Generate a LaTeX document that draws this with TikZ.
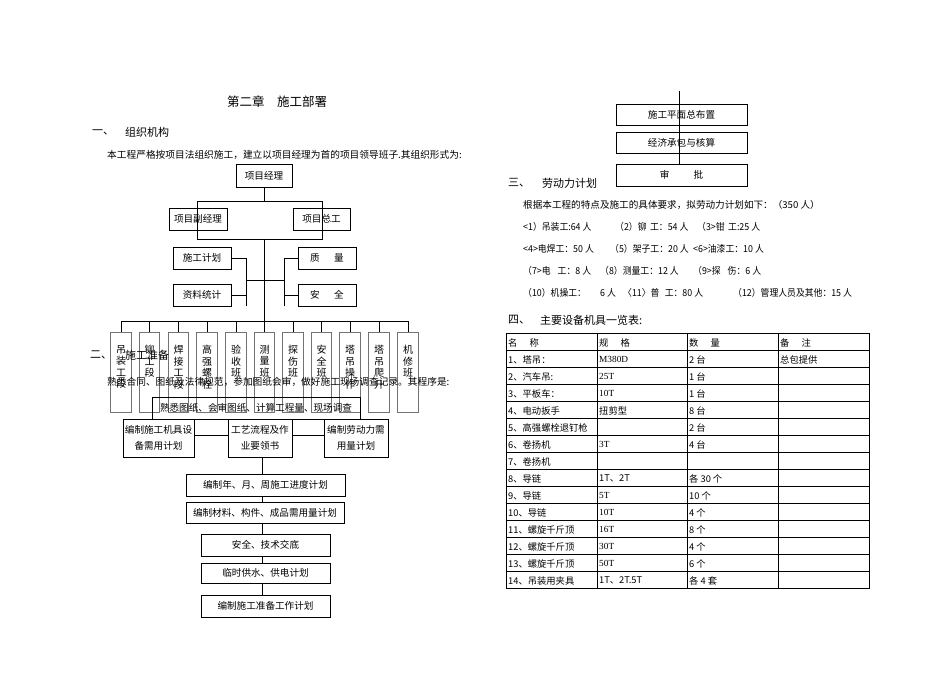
\documentclass[tikz,border=0pt]{standalone}
\usepackage{fontspec}
\usepackage{graphicx}
\setmainfont{Noto Sans CJK SC}
\newfontfamily\lser{Liberation Serif}
\newcommand{\bx}[7][box]{\node[#1, minimum width={#5-#3}, minimum height={#6-#4}] (#2) at ({(#3+#5)/2},{(#4+#6)/2}) {#7};}
\newcommand{\nar}[1]{\scalebox{0.92}[1]{#1}}
\begin{document}
\begin{tikzpicture}[x=1pt,y=-1pt,
  box/.style={draw, line width=0.6pt, inner sep=0pt, font=\fontsize{9.6}{16}\selectfont, align=center},
  wbox/.style={draw=black!55, line width=0.7pt, inner sep=0pt},
  wtxt/.style={inner sep=0pt, align=center, font=\fontsize{10}{11.5}\selectfont},
  ln/.style={line width=0.6pt},
  txt/.style={anchor=west, inner sep=0pt, font=\fontsize{9.6}{11}\selectfont},
  ptxt/.style={anchor=west, inner sep=0pt, font=\fontsize{9.7}{11}\selectfont},
  hd/.style={anchor=west, inner sep=0pt, font=\fontsize{11}{13}\selectfont},
  cell/.style={anchor=west, inner sep=0pt, font=\fontsize{9.3}{11}\selectfont},
]
\useasboundingbox (0,0) rectangle (950,672);

% ---------- left column headings ----------
\node[anchor=west, inner sep=0pt, font=\fontsize{12.5}{14}\selectfont] (title) at (227,102) {第二章\hspace{1em}施工部署};
\node[hd] (h1n) at (92,132) {一、};
\node[hd] (h1) at (125,132) {组织机构};
\node[ptxt] (p1) at (107,155) {本工程严格按项目法组织施工，建立以项目经理为首的项目领导班子.其组织形式为:};

% ---------- organisation chart ----------
\bx{pm}{236}{164}{292}{187}{项目经理}
\bx{vpm}{169}{208}{227}{230}{项目副经理}
\bx{zg}{293}{208}{350}{230}{项目总工}
\bx{sg}{173}{247}{231}{269}{施工计划}
\bx{zl}{173}{284}{231}{306}{资料统计}
\bx{zhl}{298}{247}{356}{269}{质\hspace{1.5em}量}
\bx{aq}{298}{284}{356}{306}{安\hspace{1.5em}全}

\coordinate (bTL) at (197,201);
\coordinate (bBR) at (322,239);
\coordinate (hbar) at (264,321);
\coordinate (mL) at (246,280);
\coordinate (mR) at (284,280);

\draw[ln] (pm.south) -- (pm.south |- bTL);
\draw[ln] (bTL) rectangle (bBR);
\draw[ln] (pm.south |- bBR) -- (hbar);
\draw[ln] (sg.east) -- (sg.east -| mL);
\draw[ln] (sg.east -| mL) -- (mL |- zl.south);
\draw[ln] (zl.east) -- (zl.east -| mL);
\draw[ln] (mL) -- (mR);
\draw[ln] (zhl.west) -- (zhl.west -| mR);
\draw[ln] (zhl.west -| mR) -- (mR |- aq.south);
\draw[ln] (aq.west) -- (aq.west -| mR);

\foreach \i/\cx/\t in {1/121/{吊\\装\\工\\段},2/149.5/{铆\\工\\段},3/178.5/{焊\\接\\工\\段},4/207/{高\\强\\螺\\栓},5/236/{验\\收\\班},6/264.5/{测\\量\\班},7/293/{探\\伤\\班},8/321.5/{安\\全\\班},9/350/{塔\\吊\\操\\作},10/379/{塔\\吊\\爬\\升},11/408/{机\\修\\班}}{
  \node[wbox, minimum width=20.5, minimum height=80] (w\i) at (\cx,372) {};
  \node[wtxt, anchor=north] (wt\i) at (\cx,345) {\t};
  \draw[ln] (w\i.north) -- (w\i.north |- hbar);
}
\draw[ln] (w1.north |- hbar) -- (w11.north |- hbar);

% ---------- section 2 ----------
\node[hd] (h2n) at (90,355) {二、};
\node[hd] (h2) at (125,355) {施工准备};
\node[ptxt] (p2) at (107,382) {熟悉合同、图纸及法律规范，参加图纸会审，做好施工现场调查记录。其程序是:};

\bx{sx}{152}{397}{360}{419}{熟悉图纸、会审图纸、计算工程量、现场调查}
\bx{jx}{123}{419}{194}{457}{编制施工机具设\\备需用计划}
\bx{gy}{228}{419}{292}{457}{工艺流程及作\\业要领书}
\bx{ld}{324}{419}{388}{457}{编制劳动力需\\用量计划}
\bx{jd}{186}{474}{345}{496}{编制年、月、周施工进度计划}
\bx{cl}{186}{502}{344}{523}{编制材料、构件、成品需用量计划}
\bx{aqj}{201}{534}{330}{556}{安全、技术交底}
\bx{ls}{201}{563}{330}{583}{临时供水、供电计划}
\bx{zb}{201}{595}{330}{617}{编制施工准备工作计划}

\coordinate (vx) at (262,0);
\draw[ln] ([yshift=3pt]jx.east) -- ([yshift=3pt]gy.west);
\draw[ln] ([yshift=3pt]gy.east) -- ([yshift=3pt]ld.west);
\draw[ln] (vx |- gy.south) -- (vx |- jd.north);
\draw[ln] (vx |- jd.south) -- (vx |- cl.north);
\draw[ln] (vx |- cl.south) -- (vx |- aqj.north);
\draw[ln] (vx |- aqj.south) -- (vx |- ls.north);
\draw[ln] (vx |- ls.south) -- (vx |- zb.north);

% ---------- right column top ----------
\bx{pmz}{616}{104}{747}{125}{施工平面总布置}
\bx{jj}{616}{132}{747}{153}{经济承包与核算}
\bx{sp}{616}{164}{747}{186}{审\hspace{2.5em}批}
\coordinate (rtop) at (679,91);
\draw[ln] (rtop) -- (rtop |- sp.north);

% ---------- section 3 ----------
\node[hd] (h3n) at (508,183) {三、};
\node[hd] (h3) at (542,183) {劳动力计划};
\node[txt] (l1) at (523,205) {根据本工程的特点及施工的具体要求，拟劳动力计划如下：（350 人）};
\node[txt] (l2a) at (523,227) {\nar{<1）吊装工:64 人}};
\node[txt] (l2b) at (615,227) {\nar{（2）铆\hspace{0.4em}工：54 人}};
\node[txt] (l2c) at (697,227) {\nar{（3>钳\hspace{0.4em}工:25 人}};
\node[txt] (l3a) at (523,249) {\nar{<4>电焊工：50 人}};
\node[txt] (l3b) at (610,249) {\nar{（5）架子工：20 人}};
\node[txt] (l3c) at (693,249) {\nar{<6>油漆工：10 人}};
\node[txt] (l4a) at (523,271) {\nar{（7>电\hspace{0.8em}工：8 人}};
\node[txt] (l4b) at (600,271) {\nar{（8）测量工：12 人}};
\node[txt] (l4c) at (693,271) {\nar{（9>探\hspace{0.8em}伤：6 人}};
\node[txt] (l5a) at (523,293) {\nar{（10）机操工：}};
\node[txt] (l5b) at (600,293) {\nar{6 人}};
\node[txt] (l5c) at (623,293) {\nar{〈11〉普\hspace{0.6em}工：80 人}};
\node[txt] (l5d) at (733,293) {\nar{（12）管理人员及其他：15 人}};

% ---------- section 4: table ----------
\node[hd] (h4n) at (508,320) {四、};
\node[hd] (h4) at (540,320) {主要设备机具一览表:};

\draw[line width=0.8pt] (506,333) rectangle (869,588);
\foreach \r in {1,...,14} \draw[line width=0.8pt] (506,{333+17*\r}) -- (869,{333+17*\r});
\foreach \c in {597,687,778} \draw[line width=0.8pt] (\c,333) -- (\c,588);

\foreach \r/\a/\b/\c/\d in {
  0/{名\hspace{1.3em}称}/{规\hspace{1.3em}格}/{数\hspace{1.3em}量}/{备\hspace{1.3em}注},
  1/{1、塔吊：}/{\lser M380D}/{2 台}/{总包提供},
  2/{2、汽车吊:}/{\lser 25T}/{1 台}/{},
  3/{3、平板车：}/{\lser 10T}/{1 台}/{},
  4/{4、电动扳手}/{扭剪型}/{8 台}/{},
  5/{5、高强螺栓退钉枪}/{}/{2 台}/{},
  6/{6、卷扬机}/{\lser 3T}/{4 台}/{},
  7/{7、卷扬机}/{}/{}/{},
  8/{8、导链}/{1T、2T}/{各 30 个}/{},
  9/{9、导链}/{\lser 5T}/{10 个}/{},
  10/{10、导链}/{\lser 10T}/{4 个}/{},
  11/{11、螺旋千斤顶}/{\lser 16T}/{8 个}/{},
  12/{12、螺旋千斤顶}/{\lser 30T}/{4 个}/{},
  13/{13、螺旋千斤顶}/{\lser 50T}/{6 个}/{},
  14/{14、吊装用夹具}/{1T、2T.5T}/{各 4 套}/{}}{
  \node[cell] (ca\r) at (508,{333+17*\r+9.5}) {\a};
  \node[cell] (cb\r) at (599,{333+17*\r+9.5}) {\b};
  \node[cell] (cc\r) at (689,{333+17*\r+9.5}) {\c};
  \node[cell] (cd\r) at (780,{333+17*\r+9.5}) {\d};
}
\end{tikzpicture}
\end{document}
